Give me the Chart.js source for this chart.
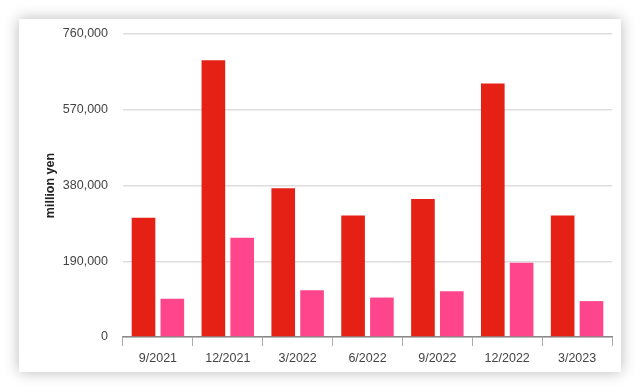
<!DOCTYPE html>
<html>
<head>
<meta charset="utf-8">
<script src="https://cdn.jsdelivr.net/npm/chart.js@4"></script>
<style>
    body { margin: 0; background: #fff; width: 640px; height: 391px; overflow: hidden; }
    #card {
        position: absolute; left: 19px; top: 19px; width: 602px; height: 353px;
        background: #fff; box-shadow: 0 0 14px rgba(0, 0, 0, 0.28);
    }
    canvas { display: block; }
</style>
</head>
<body>
<div id="card"><canvas id="salesChart" width="602" height="353"></canvas></div>
<script>
const quarters = ["9/2021", "12/2021", "3/2022", "6/2022", "9/2022", "12/2022", "3/2023"];
const redValues = [299000, 694000, 373000, 305000, 346000, 636000, 305000];
const pinkValues = [96000, 249000, 117000, 99000, 115000, 186000, 90000];
const yTicks = [0, 190000, 380000, 570000, 760000];

const ctx = document.getElementById("salesChart").getContext("2d");
Chart.defaults.font.family = "'Liberation Sans', Arial, sans-serif";
Chart.defaults.font.size = 12.5;
Chart.defaults.color = "#444";

let salesChart = new Chart(ctx, {
    type: 'bar',
    data: {
        labels: quarters,
        datasets: [{
            data: redValues,
            backgroundColor: '#e52014',
            categoryPercentage: 0.825,
            barPercentage: 0.82
        }, {
            data: pinkValues,
            backgroundColor: '#ff458b',
            categoryPercentage: 0.825,
            barPercentage: 0.82
        }]
    },
    options: {
        responsive: false,
        animation: false,
        layout: { padding: { top: 15, right: 9, left: 0, bottom: 0 } },
        plugins: {
            legend: { display: false },
            tooltip: { enabled: false }
        },
        scales: {
            x: {
                grid: { drawOnChartArea: false, color: '#aaa', tickLength: 9 },
                border: { color: '#888', width: 1.5 },
                ticks: { padding: 5, color: '#444' },
                afterFit: function (scale) { scale.height = 35; }
            },
            y: {
                min: 0,
                max: 760000,
                afterBuildTicks: function (scale) {
                    scale.ticks = yTicks.map(v => ({ value: v }));
                },
                grid: { color: '#dddddd', lineWidth: 1.5, drawTicks: false },
                border: { display: false },
                ticks: { padding: 15, color: '#444' },
                title: {
                    display: true,
                    text: 'million yen',
                    font: { weight: 'bold', size: 12.5 },
                    color: '#222',
                    padding: { top: 24, bottom: 0 }
                },
                afterFit: function (scale) {
                    scale.width = 104;
                    scale.paddingTop = 0;
                    scale.paddingBottom = 0;
                }
            }
        }
    }
});
</script>
</body>
</html>
